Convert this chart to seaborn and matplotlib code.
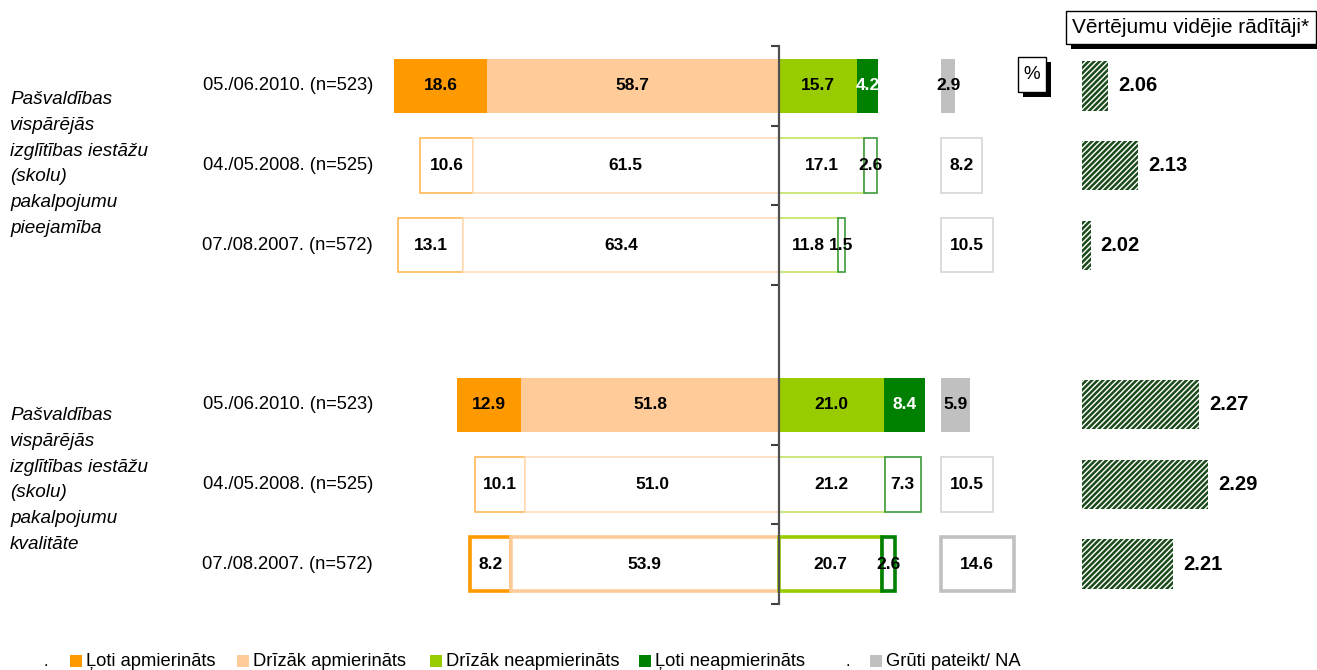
import matplotlib
matplotlib.use("Agg")
import matplotlib.pyplot as plt
from matplotlib.patches import Rectangle
import seaborn as sns
import pandas as pd

# --- dati ---
grupas = [
    "Pašvaldības\nvispārējās\nizglītības iestāžu\n(skolu)\npakalpojumu\npieejamība",
    "Pašvaldības\nvispārējās\nizglītības iestāžu\n(skolu)\npakalpojumu\nkvalitāte",
]
periodi = ["05./06.2010. (n=523)", "04./05.2008. (n=525)", "07./08.2007. (n=572)"]

loti_apm = [18.6, 10.6, 13.1, 12.9, 10.1, 8.2]
drizak_apm = [58.7, 61.5, 63.4, 51.8, 51.0, 53.9]
drizak_neapm = [15.7, 17.1, 11.8, 21.0, 21.2, 20.7]
loti_neapm = [4.2, 2.6, 1.5, 8.4, 7.3, 2.6]
gruti = [2.9, 8.2, 10.5, 5.9, 10.5, 14.6]
videjie = [2.06, 2.13, 2.02, 2.27, 2.29, 2.21]

legendas_nosaukumi = ["Ļoti apmierināts", "Drīzāk apmierināts", "Drīzāk neapmierināts",
                      "Ļoti neapmierināts", "Grūti pateikt/ NA"]

# --- stils ---
W, H, DPI = 1317, 670, 100
krasas = ["#FF9900", "#FFCC99", "#99CC00", "#008000", "#C0C0C0"]
blaklas = ["#FFB757", "#FFDDBA", "#C4E264", "#3C9C3C", "#D6D6D6"]
# rindu stils: pilns / kontūra / treknā kontūra
rindu_stils = ["pilns", "kontura", "kontura", "pilns", "kontura", "trekna"]
GRUTI_SAKUMS = 32.5
H_BAR = 0.68
leg_x = [70, 237, 430, 639, 870]   # leģendas kvadrātiņu kreisās malas, px

sns.set_theme(style="white")
plt.rcParams["font.family"] = ["Liberation Sans", "DejaVu Sans"]
plt.rcParams["text.color"] = "black"
plt.rcParams["hatch.linewidth"] = 1.8


def px_rect(x0, y0, x1, y1):
    return [x0 / W, 1 - y1 / H, (x1 - x0) / W, (y1 - y0) / H]


fig = plt.figure(figsize=(W / DPI, H / DPI), dpi=DPI)
ax = fig.add_axes(px_rect(380.6, 46, 1028, 604))

pozicijas = [g * 4 + i for g in range(len(grupas)) for i in range(len(periodi))]

for r, y in enumerate(pozicijas):
    segmenti = [
        (-(loti_apm[r] + drizak_apm[r]), loti_apm[r]),
        (-drizak_apm[r], drizak_apm[r]),
        (0, drizak_neapm[r]),
        (drizak_neapm[r], loti_neapm[r]),
        (GRUTI_SAKUMS, gruti[r]),
    ]
    stils = rindu_stils[r]
    for k, (sak, plat) in enumerate(segmenti):
        if stils == "pilns":
            ax.barh(y, plat, left=sak, height=H_BAR, color=krasas[k], linewidth=0)
            tkrasa = "white" if k == 3 else "black"
        else:
            ec = blaklas[k] if stils == "kontura" else krasas[k]
            lw = 1.2 if stils == "kontura" else 2.6
            ax.barh(y, plat, left=sak, height=H_BAR, color="white", edgecolor=ec, linewidth=lw)
            tkrasa = "black"
        ax.text(sak + plat / 2, y, f"{plat:.1f}", ha="center", va="center",
                fontsize=12.5, fontweight="bold", color=tkrasa)
    ax.text(-81.5, y, periodi[r % 3], ha="right", va="center", fontsize=13.2, clip_on=False)

ax.set_xlim(-80, 50)
ax.set_ylim(6.5, -0.5)
ax.set_xticks([])
ax.set_yticks([-0.5, 0.5, 1.5, 2.5, 4.5, 5.5, 6.5])
ax.set_yticklabels([])
ax.tick_params(axis="y", left=True, length=6, width=1.5, color="#404040", direction="out")
for s in ["top", "right", "bottom"]:
    ax.spines[s].set_visible(False)
ax.spines["left"].set_position(("data", 0))
ax.spines["left"].set_color("#505050")
ax.spines["left"].set_linewidth(1.6)
ax.spines["left"].set_zorder(5)

# grupu nosaukumi
for g, teksts in enumerate(grupas):
    yc = 164 + g * 316
    fig.text(10 / W, 1 - yc / H, teksts, ha="left", va="center", fontsize=13.6,
             style="italic", linespacing=1.68)

# vidējie rādītāji
rindas = [f"r{p}" for p in pozicijas]
secība = [f"r{p}" for p in range(7)]
df_vid = pd.DataFrame({"rinda": rindas, "videjais": videjie})
ax2 = fig.add_axes(px_rect(1082, 46, 1299, 604))
sns.barplot(data=df_vid, x="videjais", y="rinda", order=secība, color="white",
            edgecolor="#1B4A1B", linewidth=0, hatch="//////", width=0.62,
            saturation=1, errorbar=None, ax=ax2)
for p, v in zip(pozicijas, videjie):
    ax2.text(v + 0.023, p, f"{v:.2f}", ha="left", va="center", fontsize=14.5, fontweight="bold")
ax2.set_xlim(2.0, 2.5)
ax2.set_ylim(6.5, -0.5)
ax2.set_axis_off()


# virsraksta rāmji ar ēnu
def ramis(x0, y0, x1, y1, teksts, izm, nob=5):
    fig.add_artist(Rectangle(px_rect(x0 + nob, y0 + nob, x1 + nob, y1 + nob)[:2],
                             (x1 - x0) / W, (y1 - y0) / H, transform=fig.transFigure,
                             facecolor="black", edgecolor="none"))
    fig.add_artist(Rectangle(px_rect(x0, y0, x1, y1)[:2], (x1 - x0) / W, (y1 - y0) / H,
                             transform=fig.transFigure, facecolor="white",
                             edgecolor="black", linewidth=1))
    fig.text((x0 + x1) / 2 / W, 1 - (y0 + y1) / 2 / H, teksts, ha="center", va="center",
             fontsize=izm)


ramis(1066, 11, 1316, 44, "Vērtējumu vidējie rādītāji*", 15)
ramis(1018, 57, 1046, 92, "%", 13.5)

# leģenda
LEG_Y = 661
for x, c, t in zip(leg_x, krasas, legendas_nosaukumi):
    fig.add_artist(Rectangle(px_rect(x, LEG_Y - 6, x + 12, LEG_Y + 6)[:2], 12 / W, 12 / H,
                             transform=fig.transFigure, facecolor=c, edgecolor="none"))
    fig.text((x + 16) / W, 1 - LEG_Y / H, t, ha="left", va="center", fontsize=13.2)
for x in [46, 848]:
    fig.text(x / W, 1 - (LEG_Y + 1) / H, ".", ha="center", va="center", fontsize=12)

fig.savefig("out.png", dpi=DPI)
